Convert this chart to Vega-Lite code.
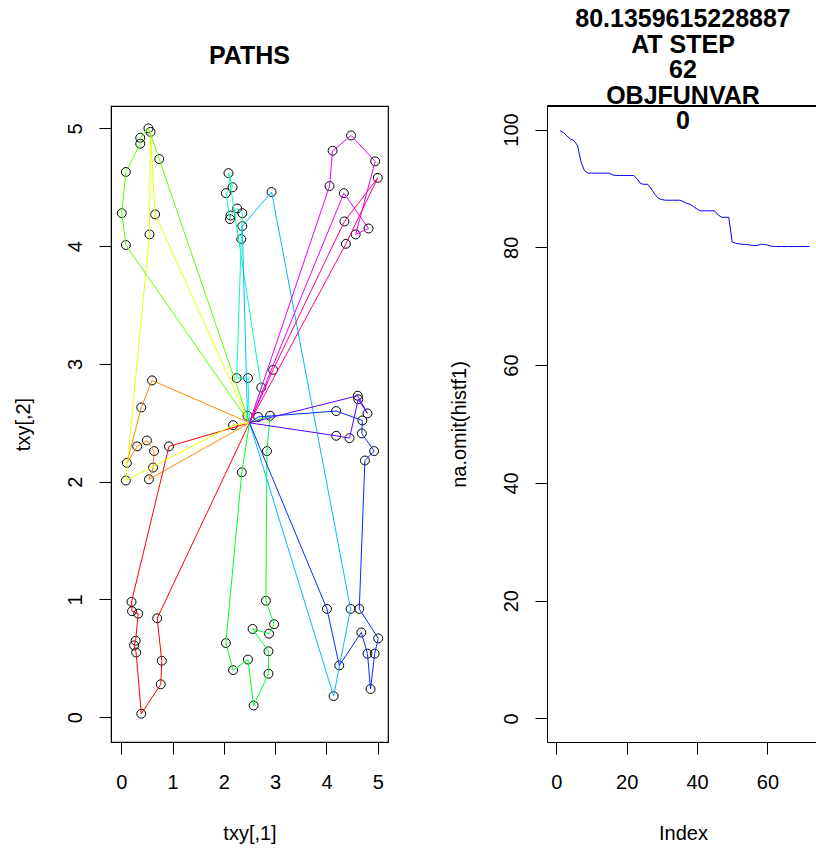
{
  "$schema": "https://vega.github.io/schema/vega-lite/v6.json",
  "autosize": {"type": "pad"},
  "padding": {"left": 12, "top": 7, "right": 0, "bottom": 0},
  "background": "white",
  "config": {
    "font": "Liberation Sans",
    "axis": {"domainColor": "black", "tickColor": "black", "labelColor": "black", "titleColor": "black", "labelFontSize": 20, "titleFontSize": 20, "titleFontWeight": "normal", "tickSize": 12, "grid": false, "labelFont": "Liberation Sans", "titleFont": "Liberation Sans", "domainWidth": 1, "tickWidth": 1, "labelOverlap": false, "labelFlush": false},
    "view": {"stroke": "black", "strokeWidth": 1.2}
  },
  "bounds": "flush",
  "spacing": 159,
  "datasets": {
    "routes": [
      {"r":"r01","s":0,"x":2.5,"y":2.5,"p":0},{"r":"r01","s":1,"x":0.70,"y":0.84,"p":1},{"r":"r01","s":2,"x":0.79,"y":0.48,"p":1},{"r":"r01","s":3,"x":0.77,"y":0.28,"p":1},{"r":"r01","s":4,"x":0.39,"y":0.03,"p":1},{"r":"r01","s":5,"x":0.29,"y":0.55,"p":1},{"r":"r01","s":6,"x":0.25,"y":0.61,"p":1},{"r":"r01","s":7,"x":0.28,"y":0.65,"p":1},{"r":"r01","s":8,"x":0.33,"y":0.88,"p":1},{"r":"r01","s":9,"x":0.21,"y":0.90,"p":1},{"r":"r01","s":10,"x":0.20,"y":0.98,"p":1},{"r":"r01","s":11,"x":0.93,"y":2.30,"p":1},{"r":"r01","s":12,"x":2.5,"y":2.5,"p":0},
      {"r":"r02","s":0,"x":2.5,"y":2.5,"p":0},{"r":"r02","s":1,"x":0.60,"y":2.86,"p":1},{"r":"r02","s":2,"x":0.39,"y":2.63,"p":1},{"r":"r02","s":3,"x":0.11,"y":2.16,"p":1},{"r":"r02","s":4,"x":0.31,"y":2.30,"p":1},{"r":"r02","s":5,"x":0.50,"y":2.35,"p":1},{"r":"r02","s":6,"x":0.64,"y":2.26,"p":1},{"r":"r02","s":7,"x":0.62,"y":2.12,"p":1},{"r":"r02","s":8,"x":0.54,"y":2.02,"p":1},{"r":"r02","s":9,"x":2.5,"y":2.5,"p":0},
      {"r":"r03","s":0,"x":2.5,"y":2.5,"p":0},{"r":"r03","s":1,"x":0.66,"y":4.27,"p":1},{"r":"r03","s":2,"x":0.57,"y":4.97,"p":1},{"r":"r03","s":3,"x":0.55,"y":4.10,"p":1},{"r":"r03","s":4,"x":0.09,"y":2.01,"p":1},{"r":"r03","s":5,"x":2.18,"y":2.48,"p":1},{"r":"r03","s":6,"x":2.5,"y":2.5,"p":0},
      {"r":"r04","s":0,"x":2.5,"y":2.5,"p":0},{"r":"r04","s":1,"x":0.09,"y":4.01,"p":1},{"r":"r04","s":2,"x":0.01,"y":4.28,"p":1},{"r":"r04","s":3,"x":0.09,"y":4.63,"p":1},{"r":"r04","s":4,"x":0.37,"y":4.87,"p":1},{"r":"r04","s":5,"x":0.37,"y":4.92,"p":1},{"r":"r04","s":6,"x":0.53,"y":5.00,"p":1},{"r":"r04","s":7,"x":0.74,"y":4.74,"p":1},{"r":"r04","s":8,"x":2.5,"y":2.5,"p":0},
      {"r":"r05","s":0,"x":2.5,"y":2.5,"p":0},{"r":"r05","s":1,"x":2.35,"y":2.08,"p":1},{"r":"r05","s":2,"x":2.04,"y":0.63,"p":1},{"r":"r05","s":3,"x":2.18,"y":0.40,"p":1},{"r":"r05","s":4,"x":2.47,"y":0.49,"p":1},{"r":"r05","s":5,"x":2.58,"y":0.10,"p":1},{"r":"r05","s":6,"x":2.87,"y":0.37,"p":1},{"r":"r05","s":7,"x":2.87,"y":0.56,"p":1},{"r":"r05","s":8,"x":2.56,"y":0.75,"p":1},{"r":"r05","s":9,"x":2.88,"y":0.71,"p":1},{"r":"r05","s":10,"x":2.98,"y":0.79,"p":1},{"r":"r05","s":11,"x":2.82,"y":0.99,"p":1},{"r":"r05","s":12,"x":2.84,"y":2.26,"p":1},{"r":"r05","s":13,"x":2.90,"y":2.56,"p":1},{"r":"r05","s":14,"x":2.5,"y":2.5,"p":0},
      {"r":"r06","s":0,"x":2.5,"y":2.5,"p":0},{"r":"r06","s":1,"x":2.47,"y":2.88,"p":1},{"r":"r06","s":2,"x":2.25,"y":2.88,"p":1},{"r":"r06","s":3,"x":2.34,"y":4.06,"p":1},{"r":"r06","s":4,"x":2.36,"y":4.28,"p":1},{"r":"r06","s":5,"x":2.26,"y":4.32,"p":1},{"r":"r06","s":6,"x":2.13,"y":4.26,"p":1},{"r":"r06","s":7,"x":2.12,"y":4.23,"p":1},{"r":"r06","s":8,"x":2.04,"y":4.45,"p":1},{"r":"r06","s":9,"x":2.17,"y":4.50,"p":1},{"r":"r06","s":10,"x":2.09,"y":4.62,"p":1},{"r":"r06","s":11,"x":2.73,"y":2.80,"p":1},{"r":"r06","s":12,"x":2.5,"y":2.5,"p":0},
      {"r":"r07","s":0,"x":2.5,"y":2.5,"p":0},{"r":"r07","s":1,"x":2.46,"y":2.56,"p":1},{"r":"r07","s":2,"x":2.36,"y":4.17,"p":1},{"r":"r07","s":3,"x":2.93,"y":4.46,"p":1},{"r":"r07","s":4,"x":4.47,"y":0.92,"p":1},{"r":"r07","s":5,"x":4.14,"y":0.18,"p":1},{"r":"r07","s":6,"x":2.5,"y":2.5,"p":0},
      {"r":"r08","s":0,"x":2.5,"y":2.5,"p":0},{"r":"r08","s":1,"x":4.01,"y":0.92,"p":1},{"r":"r08","s":2,"x":4.25,"y":0.44,"p":1},{"r":"r08","s":3,"x":4.68,"y":0.72,"p":1},{"r":"r08","s":4,"x":4.80,"y":0.54,"p":1},{"r":"r08","s":5,"x":4.86,"y":0.24,"p":1},{"r":"r08","s":6,"x":4.94,"y":0.54,"p":1},{"r":"r08","s":7,"x":5.01,"y":0.67,"p":1},{"r":"r08","s":8,"x":4.64,"y":0.92,"p":1},{"r":"r08","s":9,"x":4.75,"y":2.18,"p":1},{"r":"r08","s":10,"x":4.93,"y":2.26,"p":1},{"r":"r08","s":11,"x":4.69,"y":2.41,"p":1},{"r":"r08","s":12,"x":4.70,"y":2.52,"p":1},{"r":"r08","s":13,"x":4.19,"y":2.60,"p":1},{"r":"r08","s":14,"x":2.67,"y":2.55,"p":1},{"r":"r08","s":15,"x":2.5,"y":2.5,"p":0},
      {"r":"r09","s":0,"x":2.5,"y":2.5,"p":0},{"r":"r09","s":1,"x":4.61,"y":2.73,"p":1},{"r":"r09","s":2,"x":4.80,"y":2.58,"p":1},{"r":"r09","s":3,"x":4.62,"y":2.70,"p":1},{"r":"r09","s":4,"x":4.45,"y":2.37,"p":1},{"r":"r09","s":5,"x":4.19,"y":2.39,"p":1},{"r":"r09","s":6,"x":2.5,"y":2.5,"p":0},
      {"r":"r10","s":0,"x":2.5,"y":2.5,"p":0},{"r":"r10","s":1,"x":4.06,"y":4.51,"p":1},{"r":"r10","s":2,"x":4.12,"y":4.81,"p":1},{"r":"r10","s":3,"x":4.48,"y":4.94,"p":1},{"r":"r10","s":4,"x":4.95,"y":4.72,"p":1},{"r":"r10","s":5,"x":4.57,"y":4.10,"p":1},{"r":"r10","s":6,"x":4.82,"y":4.15,"p":1},{"r":"r10","s":7,"x":4.34,"y":4.45,"p":1},{"r":"r10","s":8,"x":2.5,"y":2.5,"p":0},
      {"r":"r11","s":0,"x":2.5,"y":2.5,"p":0},{"r":"r11","s":1,"x":2.96,"y":2.95,"p":1},{"r":"r11","s":2,"x":4.35,"y":4.21,"p":1},{"r":"r11","s":3,"x":5.00,"y":4.58,"p":1},{"r":"r11","s":4,"x":4.38,"y":4.02,"p":1},{"r":"r11","s":5,"x":2.5,"y":2.5,"p":0}
    ],
    "hist": [
      {"i":1,"v":99.8},{"i":2,"v":99.5},{"i":3,"v":98.9},{"i":4,"v":98.4},{"i":5,"v":98.1},{"i":6,"v":97.3},{"i":7,"v":94.5},{"i":8,"v":93.0},{"i":9,"v":92.6},{"i":10,"v":92.6},
      {"i":11,"v":92.6},{"i":12,"v":92.6},{"i":13,"v":92.6},{"i":14,"v":92.6},{"i":15,"v":92.6},{"i":16,"v":92.3},{"i":17,"v":92.2},{"i":18,"v":92.2},{"i":19,"v":92.2},{"i":20,"v":92.2},
      {"i":21,"v":92.2},{"i":22,"v":92.2},{"i":23,"v":91.6},{"i":24,"v":90.8},{"i":25,"v":90.7},{"i":26,"v":90.7},{"i":27,"v":89.9},{"i":28,"v":89.0},{"i":29,"v":88.3},{"i":30,"v":88.1},
      {"i":31,"v":88.0},{"i":32,"v":88.0},{"i":33,"v":88.0},{"i":34,"v":88.0},{"i":35,"v":88.0},{"i":36,"v":87.8},{"i":37,"v":87.5},{"i":38,"v":87.3},{"i":39,"v":86.9},{"i":40,"v":86.5},
      {"i":41,"v":86.2},{"i":42,"v":86.2},{"i":43,"v":86.2},{"i":44,"v":86.2},{"i":45,"v":86.2},{"i":46,"v":85.5},{"i":47,"v":85.1},{"i":48,"v":85.1},{"i":49,"v":85.1},{"i":50,"v":80.9},
      {"i":51,"v":80.7},{"i":52,"v":80.6},{"i":53,"v":80.5},{"i":54,"v":80.5},{"i":55,"v":80.4},{"i":56,"v":80.3},{"i":57,"v":80.3},{"i":58,"v":80.5},{"i":59,"v":80.5},{"i":60,"v":80.4},
      {"i":61,"v":80.2},{"i":62,"v":80.136},{"i":63,"v":80.136},{"i":64,"v":80.136},{"i":65,"v":80.136},{"i":66,"v":80.136},{"i":67,"v":80.136},{"i":68,"v":80.136},{"i":69,"v":80.136},{"i":70,"v":80.136},
      {"i":71,"v":80.136},{"i":72,"v":80.136}
    ]
  },
  "hconcat": [
    {
      "width": 277,
      "height": 636,
      "data": {"name": "routes"},
      "title": {"text": "PATHS", "fontSize": 25, "fontWeight": "bold", "font": "Liberation Sans", "color": "black", "anchor": "middle", "frame": "group", "baseline": "alphabetic", "offset": 16.7},
      "encoding": {
        "x": {"field": "x", "type": "quantitative", "scale": {"domain": [-0.2, 5.2], "nice": false, "zero": false}, "axis": {"title": "txy[,1]", "values": [0, 1, 2, 3, 4, 5], "labelPadding": 18, "titlePadding": 31}},
        "y": {"field": "y", "type": "quantitative", "scale": {"domain": [-0.21, 5.19], "nice": false, "zero": false}, "axis": {"title": "txy[,2]", "values": [0, 1, 2, 3, 4, 5], "labelAngle": -90, "labelAlign": "center", "labelBaseline": "bottom", "labelPadding": 14, "titlePadding": 32}}
      },
      "layer": [
        {"transform": [{"filter": "datum.p == 1"}], "mark": {"type": "point", "shape": "circle", "filled": false, "stroke": "black", "strokeWidth": 1, "size": 80, "opacity": 1}},
        {"mark": {"type": "line", "strokeWidth": 1},
         "encoding": {
           "color": {"field": "r", "type": "nominal", "legend": null, "scale": {"domain": ["r01","r02","r03","r04","r05","r06","r07","r08","r09","r10","r11"], "range": ["#FF0000","#FF8B00","#E8FF00","#5DFF00","#00FF2E","#00FFB9","#00B9FF","#002EFF","#5D00FF","#E800FF","#FF008B"]}},
           "order": {"field": "s", "type": "quantitative"}
         }}
      ]
    },
    {
      "width": 272,
      "height": 636,
      "data": {"name": "hist"},
      "view": {"stroke": null},
      "title": {"text": ["80.1359615228887", "AT STEP", "62", "OBJFUNVAR", "0"], "fontSize": 25, "fontWeight": "bold", "font": "Liberation Sans", "color": "black", "anchor": "middle", "frame": "group", "baseline": "alphabetic", "lineHeight": 25.5, "offset": -48.7},
      "layer": [
        {"mark": {"type": "line", "color": "#0000FF", "strokeWidth": 1},
         "encoding": {
           "x": {"field": "i", "type": "quantitative", "scale": {"domain": [-2.67, 74.67], "nice": false, "zero": false}, "axis": {"title": "Index", "values": [0, 20, 40, 60], "labelPadding": 18, "titlePadding": 31}},
           "y": {"field": "v", "type": "quantitative", "scale": {"domain": [-4, 104], "nice": false, "zero": false}, "axis": {"title": "na.omit(histf1)", "values": [0, 20, 40, 60, 80, 100], "labelAngle": -90, "labelAlign": "center", "labelBaseline": "bottom", "labelPadding": 14, "titlePadding": 32}}
         }},
        {"mark": {"type": "rule", "color": "black", "strokeWidth": 1.2}, "encoding": {"y": {"datum": 104}}}
      ]
    }
  ]
}
